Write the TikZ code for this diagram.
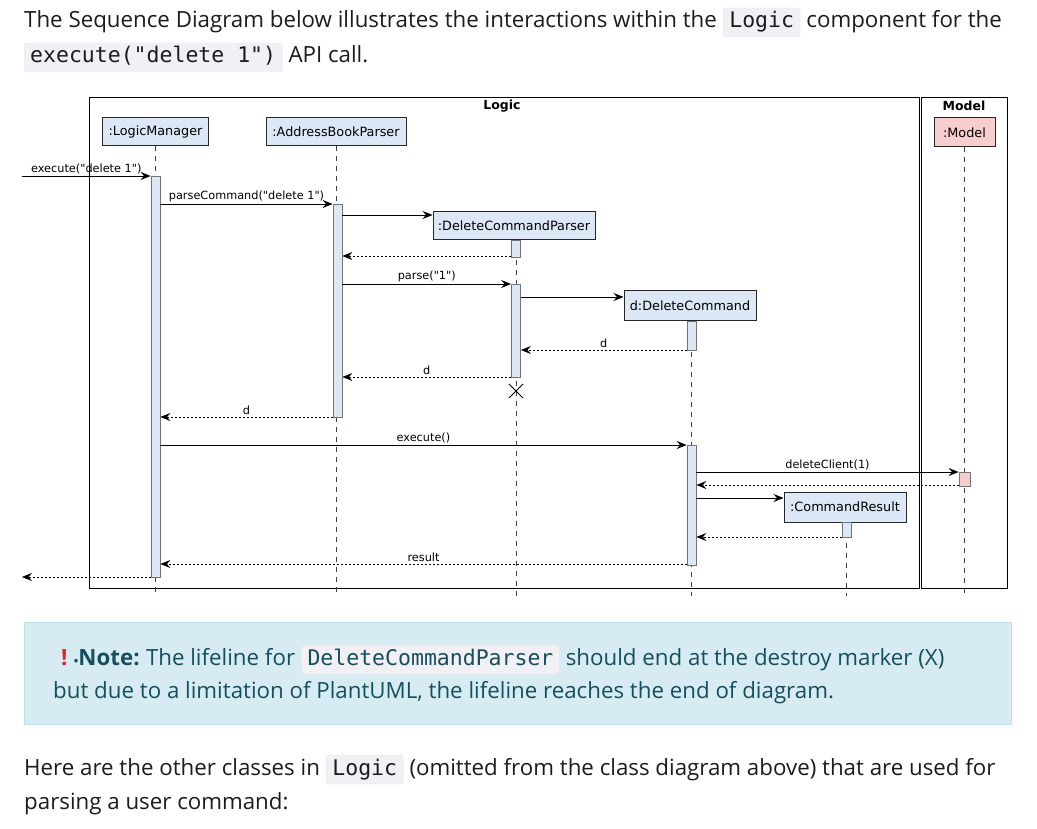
\documentclass[tikz,border=0pt]{standalone}
\usepackage{fontspec}
\setmainfont{Open Sans}
\newfontfamily\umlfont{DejaVu Sans}
\newfontfamily\codefont{DejaVu Sans Mono}
\usetikzlibrary{arrows.meta,positioning,shapes.misc}

\definecolor{bodytext}{RGB}{28,28,30}
\definecolor{codebg}{RGB}{240,240,245}
\definecolor{codeline}{RGB}{226,226,234}
\definecolor{partblue}{RGB}{220,232,246}
\definecolor{partpink}{RGB}{247,205,205}
\definecolor{notebg}{RGB}{214,236,242}
\definecolor{noteline}{RGB}{190,225,233}
\definecolor{notetext}{RGB}{22,78,92}
\definecolor{warnred}{RGB}{226,36,36}

\tikzset{
  txt/.style={inner sep=0pt, text=bodytext, font=\fontsize{22.3}{24}\selectfont},
  code/.style={fill=codebg, draw=codeline, rounded corners=3pt, inner xsep=6pt,
    inner ysep=5pt, text height=15pt, text depth=4pt, text=bodytext,
    font=\codefont\fontsize{21.5}{24}\selectfont},
  frame/.style={draw=black, line width=0.9pt},
  ftitle/.style={font=\umlfont\bfseries\fontsize{12.5}{14}\selectfont},
  part/.style={draw=black!85, fill=partblue, line width=1pt, minimum height=28pt,
    inner xsep=4pt, font=\umlfont\fontsize{12.8}{14}\selectfont},
  act/.style={draw=black!55, fill=partblue, line width=0.8pt, minimum width=9pt, inner sep=0pt},
  life/.style={draw=black!75, dash pattern=on 5pt off 5pt, line width=0.7pt},
  msg/.style={-{Stealth[length=10pt,width=8pt,inset=3.5pt]}, line width=0.9pt},
  ret/.style={msg, dash pattern=on 2pt off 2pt, line width=0.7pt},
  lbl/.style={font=\umlfont\fontsize{11.3}{13}\selectfont, inner sep=2pt},
}

\begin{document}
\begin{tikzpicture}[x=1pt, y=-1pt]
  \fill[white] (0,0) rectangle (1037,829);
  \useasboundingbox (0,0) rectangle (1037,829);

  % text above the diagram
  \node[txt, anchor=base west] (h1) at (24,28)
    {The Sequence Diagram below illustrates the interactions within the};
  \node[code, anchor=base west, xshift=6pt] (h1code) at (h1.base east) {Logic};
  \node[txt, anchor=base west, xshift=6pt] (h1end) at (h1code.base east) {component for the};
  \node[code, anchor=base west] (h2code) at (24,63) {execute("delete 1")};
  \node[txt, anchor=base west, xshift=6pt] (h2end) at (h2code.base east) {API call.};

  % frames
  \draw[frame] (89,97) rectangle (919,588);
  \draw[frame] (921.5,97) rectangle (1007,588);
  \node[ftitle] (logicT) at (502,106) {Logic};
  \node[ftitle] (modelT) at (964,106) {Model};

  % participants
  \node[part, minimum width=106] (lm) at (155.5,132) {:LogicManager};
  \node[part, minimum width=140] (abp) at (336,132) {:AddressBookParser};
  \node[part, minimum width=162] (dcp) at (514,226) {:DeleteCommandParser};
  \node[part, minimum width=132, minimum height=30] (dc) at (690,306) {d:DeleteCommand};
  \node[part, minimum width=122, minimum height=30] (cr) at (845,507) {:CommandResult};
  \node[part, fill=partpink, minimum width=61, minimum height=29] (mdl) at (964.5,132.5) {:Model};

  % lifelines
  \coordinate (bot) at (0,596);
  \foreach \p/\x in {lm/155.5, abp/336, dcp/516, dc/691, cr/846.5, mdl/964.5}
    \draw[life] (\x,0 |- \p.south) -- (\x,0 |- bot);

  % activations
  \node[act, minimum height=401] (lmA) at (155.5,376.5) {};
  \node[act, minimum height=213] (abpA) at (337.5,310.5) {};
  \node[act, minimum height=17] (dcpA1) at (516,248.5) {};
  \node[act, minimum height=93] (dcpA2) at (516,330.5) {};
  \node[act, minimum height=29] (dcA1) at (691.5,335.5) {};
  \node[act, minimum height=120] (dcA2) at (691.5,505) {};
  \node[act, minimum height=15] (crA1) at (846.5,529.5) {};
  \node[act, fill=partpink, minimum width=11, minimum height=14] (mdlA) at (964.5,479) {};

  % message rows
  \coordinate (in) at (22,176);
  \coordinate (out) at (22,577);
  \foreach \n/\y in {m1/176, m2/204, m3/215, m4/256, m5/284, m6/297, m7/350, m8/377,
      m10/417, m11/445, m12/472, m13/485, m14/498, m15/537, m16/564, m17/577}
    \coordinate (\n) at (0,\y);

  % messages
  \draw[msg] (in) -- (lmA.west |- m1) node[lbl, midway, above] {execute("delete 1")};
  \draw[msg] (lmA.east |- m2) -- (abpA.west |- m2) node[lbl, midway, above] {parseCommand("delete 1")};
  \draw[msg] (abpA.east |- m3) -- (dcp.west |- m3);
  \draw[ret] (dcpA1.west |- m4) -- (abpA.east |- m4);
  \draw[msg] (abpA.east |- m5) -- (dcpA2.west |- m5) node[lbl, midway, above] {parse("1")};
  \draw[msg] (dcpA2.east |- m6) -- (dc.west |- m6);
  \draw[ret] (dcA1.west |- m7) -- (dcpA2.east |- m7) node[lbl, midway, above] {d};
  \draw[ret] (dcpA2.west |- m8) -- (abpA.east |- m8) node[lbl, midway, above] {d};
  \node[draw, cross out, minimum size=13pt, inner sep=0pt, line width=1pt] (dcpX) at (516,391) {};
  \draw[ret] (abpA.west |- m10) -- (lmA.east |- m10) node[lbl, midway, above] {d};
  \draw[msg] (lmA.east |- m11) -- (dcA2.west |- m11) node[lbl, midway, above] {execute()};
  \draw[msg] (dcA2.east |- m12) -- (mdlA.west |- m12) node[lbl, midway, above] {deleteClient(1)};
  \draw[ret] (mdlA.west |- m13) -- (dcA2.east |- m13);
  \draw[msg] (dcA2.east |- m14) -- (cr.west |- m14);
  \draw[ret] (crA1.west |- m15) -- (dcA2.east |- m15);
  \draw[ret] (dcA2.west |- m16) -- (lmA.east |- m16) node[lbl, midway, above] {result};
  \draw[ret] (lmA.west |- m17) -- (out);

  % note box
  \node[fill=notebg, draw=noteline, minimum width=987, minimum height=102,
    anchor=north west, inner sep=0pt] (note) at (24,622) {};
  \node[txt, text=warnred, font=\bfseries\fontsize{22.3}{24}\selectfont, anchor=base west]
    (warn) at (61,665) {!};
  \node[txt, text=notetext, font=\bfseries\fontsize{22.3}{24}\selectfont, anchor=base west,
    xshift=6pt] (noteHd) at (warn.base east) {{\fontsize{12}{14}\selectfont•}Note:};
  \node[txt, text=notetext, anchor=base west, xshift=6pt] (n1a) at (noteHd.base east)
    {The lifeline for};
  \node[code, anchor=base west, xshift=6pt, text=notetext] (n1code) at (n1a.base east)
    {DeleteCommandParser};
  \node[txt, text=notetext, anchor=base west, xshift=6pt] (n1b) at (n1code.base east)
    {should end at the destroy marker (X)};
  \node[txt, text=notetext, anchor=base west] (n2) at (53,698)
    {but due to a limitation of PlantUML, the lifeline reaches the end of diagram.};

  % text below
  \node[txt, anchor=base west] (t1) at (24,775) {Here are the other classes in};
  \node[code, anchor=base west, xshift=6pt] (t1code) at (t1.base east) {Logic};
  \node[txt, anchor=base west, xshift=6pt] (t1end) at (t1code.base east)
    {(omitted from the class diagram above) that are used for};
  \node[txt, anchor=base west] (t2) at (24,809) {parsing a user command:};
\end{tikzpicture}
\end{document}
